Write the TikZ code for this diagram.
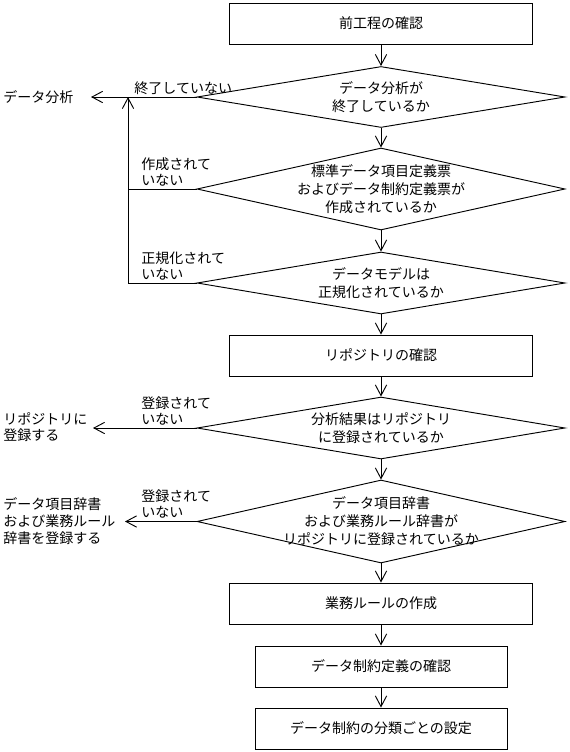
\documentclass[tikz,border=0pt]{standalone}
\usepackage{fontspec}
\setmainfont{Noto Sans CJK JP}
\usetikzlibrary{shapes.geometric,arrows.meta}

\begin{document}
\begin{tikzpicture}[x=0.75pt,y=-0.75pt,>={Straight Barb[length=8pt,width=8.5pt]},line width=0.7pt,
  font=\fontsize{10.5pt}{13pt}\selectfont,
  proc/.style={draw,rectangle,minimum width=227pt,minimum height=30.75pt,inner sep=0pt},
  dec/.style={draw,diamond,minimum width=276pt,inner sep=0pt},
  dtxt/.style={align=center,inner sep=0pt,font=\fontsize{10.5pt}{13.5pt}\selectfont},
  lbl/.style={align=left,inner sep=0pt,font=\fontsize{10.5pt}{12.5pt}\selectfont}]
\useasboundingbox (0,0) rectangle (569,752);

%main column
\node[proc] (b1) at (381,23.5) {前工程の確認};
\node[dec, minimum height=45.75pt, label={[dtxt]center:データ分析が\\終了しているか}] (d1) at (381,97) {};
\node[dec, minimum height=61.5pt, label={[dtxt]center:標準データ項目定義票\\およびデータ制約定義票が\\作成されているか}] (d2) at (381,189) {};
\node[dec, minimum height=46.5pt, label={[dtxt]center:データモデルは\\正規化されているか}] (d3) at (381,283) {};
\node[proc] (b2) at (381,355.5) {リポジトリの確認};
\node[dec, minimum height=46.5pt, label={[dtxt]center:分析結果はリポジトリ\\に登録されているか}] (d4) at (381,428) {};
\node[dec, minimum height=62.25pt, label={[dtxt]center:データ項目辞書\\および業務ルール辞書が\\リポジトリに登録されているか}] (d5) at (381,521.5) {};
\node[proc] (b3) at (381,603.5) {業務ルールの作成};
\node[proc, minimum width=189pt] (b4) at (381,666.5) {データ制約定義の確認};
\node[proc, minimum width=189pt] (b5) at (381,728.5) {データ制約の分類ごとの設定};

\draw[->] (b1.south)--(d1.north);
\draw[->] (d1.south)--(d2.north);
\draw[->] (d2.south)--(d3.north);
\draw[->] (d3.south)--(b2.north);
\draw[->] (b2.south)--(d4.north);
\draw[->] (d4.south)--(d5.north);
\draw[->] (d5.south)--(b3.north);
\draw[->] (b3.south)--(b4.north);
\draw[->] (b4.south)--(b5.north);

%left side, exits
\node[lbl, anchor=west] (o1) at (3,97) {データ分析};
\node[lbl, anchor=west] (o4) at (3,427) {リポジトリに\\登録する};
\node[lbl, anchor=west] (o5) at (3,521) {データ項目辞書\\および業務ルール\\辞書を登録する};
\coordinate (a1) at (91,97);
\coordinate (a4) at (93,428);
\coordinate (a5) at (125,521.5);
\coordinate (r1) at (128,97);
\coordinate (r2) at (128,189);

\draw[->] (d1.west)--(a1);		%d1--o1
\draw (d2.west)--(r2);			%d2--loop
\draw[->] (d3.west)-|(r1);		%d3--loop--d1
\draw[->] (d4.west)--(a4);		%d4--o4
\draw[->] (d5.west)--(a5);		%d5--o5

%labels
\node[lbl, anchor=south west] (l1) at (134,95) {終了していない};
\node[lbl, anchor=south west] (l2) at (141,187) {作成されて\\いない};
\node[lbl, anchor=south west] (l3) at (141,281) {正規化されて\\いない};
\node[lbl, anchor=south west] (l4) at (141,426) {登録されて\\いない};
\node[lbl, anchor=south west] (l5) at (141,519) {登録されて\\いない};

\end{tikzpicture}
\end{document}
